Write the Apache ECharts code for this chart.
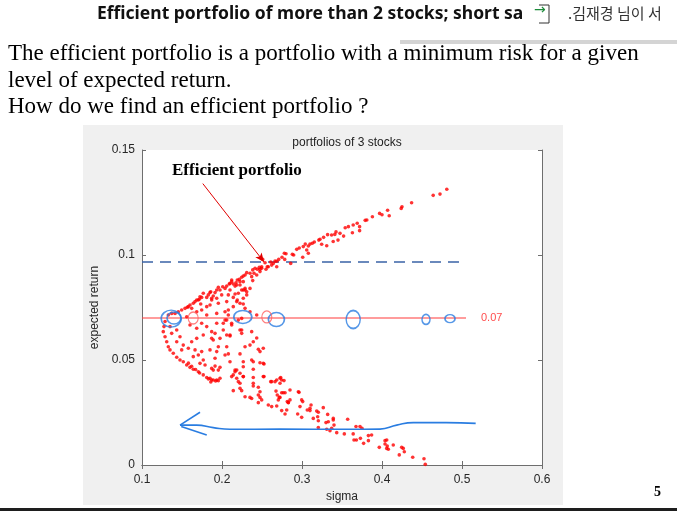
<!DOCTYPE html>
<html>
<head>
<meta charset="utf-8">
<script src="https://cdn.jsdelivr.net/npm/echarts@6/dist/echarts.min.js"></script>
<style>
  html, body { margin: 0; padding: 0; background: #fff; }
  #plot { width: 677px; height: 511px; }
</style>
</head>
<body>
<div id="plot"></div>
<script>
// 포트폴리오 점들 [sigma, expected return]
var portfolios = [
  [0.481,0.1313],[0.4725,0.129],[0.464,0.1284],[0.437,0.1249],[0.425,0.123],[0.424,0.1222],
  [0.409,0.1187],[0.407,0.1213],[0.400,0.1192],[0.397,0.1198],[0.388,0.1182],[0.381,0.1167],
  [0.379,0.1165],[0.369,0.1151],[0.372,0.1135],[0.372,0.1116],[0.364,0.1143],[0.363,0.1106],
  [0.358,0.1135],[0.354,0.1130],[0.352,0.1090],[0.3475,0.1103],[0.3425,0.1110],[0.341,0.1098],
  [0.345,0.1071],[0.339,0.1064],[0.337,0.1095],[0.332,0.1097],[0.327,0.1084],[0.3225,0.1075],
  [0.3246,0.1051],[0.3309,0.1044],[0.321,0.1071],[0.3154,0.1062],[0.3129,0.1056],[0.31,0.1052],
  [0.3079,0.1043],[0.3059,0.1024],[0.3041,0.1052],[0.3016,0.1040],[0.3009,0.0989],[0.3079,0.1008],
  [0.2966,0.1033],[0.2934,0.1027],[0.2896,0.1000],[0.2879,0.1003],[0.2859,0.0960],[0.28,0.1006],
  [0.2779,0.1008],[0.275,0.0989],[0.2784,0.0979],[0.2709,0.0979],[0.2684,0.0970],[0.2663,0.0971],
  [0.2641,0.0960],[0.2621,0.0952],[0.2684,0.0944],[0.2609,0.0967],[0.2579,0.0944],[0.255,0.0932],
  [0.2509,0.0979],[0.2496,0.0937],[0.2466,0.0941],[0.2441,0.0932],[0.2413,0.0937],[0.2384,0.0929],
  [0.2475,0.0921],[0.2434,0.0905],[0.24,0.0913],[0.2371,0.0897],
  [0.2538,0.0963],[0.2566,0.0944],[0.2496,0.0944],[0.2475,0.0932],[0.235,0.0913],[0.2384,0.0878],
  [0.2309,0.0916],[0.2288,0.0905],[0.2266,0.0900],[0.2246,0.0894],[0.2266,0.0873],[0.2216,0.0884],
  [0.2191,0.0881],[0.2175,0.0868],[0.2141,0.0862],[0.2121,0.0873],[0.2163,0.0852],[0.2246,0.0833],
  [0.2288,0.0841],[0.2309,0.0825],[0.2091,0.0862],[0.2059,0.0852],[0.2038,0.0841],[0.21,0.0833],
  [0.2009,0.0849],[0.1975,0.0833],[0.1934,0.0833],[0.1913,0.0821],[0.1996,0.0810],[0.2163,0.0814],
  [0.2191,0.0786],[0.2141,0.0798],[0.1891,0.0805],[0.1859,0.0825],[0.1829,0.0810],[0.1809,0.0798],
  [0.1871,0.0786],[0.1934,0.0794],[0.1766,0.0818],[0.1746,0.0798],[0.1716,0.0789],[0.1684,0.0786],
  [0.1663,0.0778],[0.1641,0.0770],[0.1734,0.0767],[0.1809,0.0754],[0.185,0.0762],[0.16,0.0762],
  [0.1566,0.0751],[0.1621,0.0746],
  [0.21,0.0865],[0.2184,0.0857],[0.2225,0.0873],[0.1954,0.0846],[0.185,0.0821],[0.1871,0.0794],
  [0.2079,0.0810],[0.2204,0.0818],[0.2266,0.0833],[0.1725,0.0801],[0.1704,0.0786],
  [0.1579,0.0754],[0.1538,0.0746],[0.1496,0.0738],[0.1454,0.0730],[0.1413,0.0722],[0.1371,0.0722],
  [0.1329,0.0714],[0.1954,0.0770],[0.2059,0.0778],[0.2141,0.0754],[0.2225,0.0770],[0.1746,0.0738],
  [0.1684,0.0730],[0.1934,0.0722],[0.2038,0.0730],[0.2079,0.0714],[0.1809,0.0714],[0.1559,0.0706],
  [0.1288,0.0683],[0.1275,0.0659],[0.1266,0.0635],[0.1288,0.0611],[0.1309,0.0587],[0.1329,0.0563],
  [0.135,0.0548],[0.1391,0.0532],[0.1434,0.0513],[0.1475,0.0500],[0.1516,0.0492],[0.1559,0.0476],
  [0.16,0.0465],[0.1641,0.0456],[0.1704,0.0444],[0.1766,0.0429],[0.1809,0.0417],[0.185,0.0413],
  [0.1891,0.0405],[0.1954,0.0401],[0.1975,0.0413],
  [0.135,0.0659],[0.1371,0.0627],[0.1434,0.0643],[0.1475,0.0611],[0.1434,0.0587],[0.1516,0.0571],
  [0.1496,0.0548],[0.1579,0.0556],[0.1621,0.0587],[0.1684,0.0603],[0.1663,0.0548],[0.1704,0.0524],
  [0.1746,0.0540],[0.1766,0.0500],[0.1725,0.0484],[0.1788,0.0476],[0.1641,0.0516],[0.16,0.0667],
  [0.1684,0.0651],[0.1746,0.0675],[0.1809,0.0659],[0.1871,0.0635],[0.1766,0.0619],[0.1891,0.0595],
  [0.1975,0.0603],[0.1954,0.0563],[0.185,0.0548],[0.1913,0.0508],[0.1975,0.0465],[0.1871,0.0460],
  [0.2059,0.0563],[0.2038,0.0524],[0.21,0.0492],[0.2163,0.0452],[0.2225,0.0437],[0.2184,0.0413],
  [0.2266,0.0421],[0.2225,0.0389],[0.2121,0.0675],[0.2225,0.0643],[0.21,0.0619],[0.2016,0.0643],
  [0.1934,0.0675],[0.2059,0.0690],
  [0.158,0.0485],[0.162,0.047],[0.167,0.0455],[0.172,0.0438],[0.183,0.0410],[0.192,0.0400],[0.186,0.0395],
  [0.2079,0.0738],[0.2266,0.0767],[0.2288,0.0746],[0.235,0.0730],[0.2434,0.0714],[0.2246,0.0698],
  [0.2204,0.0690],[0.2038,0.0690],[0.2016,0.0675],[0.2121,0.0667],[0.2059,0.0619],[0.21,0.0614],
  [0.2246,0.0643],[0.2246,0.0627],[0.2371,0.0635],[0.1913,0.0627],[0.1871,0.0603],[0.2288,0.0563],
  [0.235,0.0571],[0.2454,0.0551],[0.1934,0.0540],[0.2079,0.0529],[0.2225,0.0529],[0.2371,0.0500],
  [0.2391,0.0492],[0.2475,0.0487],[0.2516,0.0484],[0.2266,0.0492],[0.1913,0.0471],[0.1954,0.0452],
  [0.1891,0.0452],[0.2163,0.0444],[0.2184,0.0452],[0.2266,0.0468],[0.2391,0.0456],[0.2141,0.0429],
  [0.2121,0.0421],[0.2266,0.0421],[0.2391,0.0417],[0.2516,0.0421],[0.2621,0.0397],[0.2684,0.0405],
  [0.2746,0.0405],[0.2725,0.0413],[0.1871,0.0405],[0.1934,0.0405],[0.2204,0.0397],[0.2225,0.0365],
  [0.2246,0.0354],[0.2141,0.0354],[0.2391,0.0376],[0.2454,0.0370],[0.2475,0.0349],[0.2454,0.0333],
  [0.235,0.0322],[0.2371,0.0317],[0.2288,0.0325],[0.2475,0.0322],[0.2496,0.0310],[0.2579,0.0286],
  [0.2621,0.0278],[0.2684,0.0281],[0.2704,0.0310],[0.2725,0.0322],[0.285,0.0357],[0.2954,0.0349],
  [0.285,0.0310],[0.2829,0.0298],[0.2996,0.0310],[0.31,0.0270],[0.2975,0.0278],
  [0.2184,0.0778],[0.2266,0.0794],[0.2309,0.0810],[0.235,0.0841],[0.2288,0.0833],[0.2225,0.0857],
  [0.2121,0.0881],[0.2434,0.0605],[0.2391,0.0587],[0.2475,0.0540],[0.2516,0.0556],
  [0.2525,0.0481],[0.2525,0.0421],[0.2391,0.0389],[0.2454,0.0297],[0.2609,0.0397],[0.2663,0.0397],
  [0.2725,0.0389],[0.2734,0.0417],[0.2775,0.0402],[0.2675,0.0352],[0.2691,0.0333],[0.2716,0.0322],
  [0.2746,0.0344],[0.2766,0.0344],[0.2788,0.0344],[0.2963,0.0346],[0.2816,0.0302],[0.2829,0.0297],
  [0.2746,0.0259],[0.2788,0.0243],[0.2809,0.0262],[0.3009,0.0302],[0.2946,0.0243],[0.2996,0.0227],
  [0.3066,0.0262],[0.3113,0.0286],[0.31,0.0259],[0.3141,0.0222],[0.3184,0.0257],[0.3204,0.0251],
  [0.3196,0.0230],[0.3204,0.0211],[0.3266,0.0273],[0.3321,0.0241],[0.3300,0.0202],[0.3329,0.0206],
  [0.3391,0.0222],[0.3391,0.0214],[0.34,0.0190],[0.3204,0.0178],[0.3309,0.0170],[0.335,0.0163],
  [0.3371,0.0175],[0.3434,0.0154],[0.3529,0.0148],[0.3571,0.0218],[0.364,0.0148],[0.365,0.0119],
  [0.368,0.0119],[0.3675,0.0183],[0.3725,0.0183],[0.375,0.0175],[0.377,0.0103],[0.373,0.0127],
  [0.383,0.0140],[0.383,0.0116],[0.387,0.0143],[0.3966,0.0084],[0.4038,0.0116],[0.4059,0.0119],
  [0.4038,0.0100],[0.4066,0.0090],[0.4059,0.0079],[0.4079,0.0075],[0.4141,0.0095],[0.4246,0.0084],
  [0.4266,0.0079],[0.4279,0.0063],[0.4216,0.0048],[0.4384,0.0037],[0.4525,0.0030],[0.4541,0.0003]
];

// 기준선
var targetReturn = 0.07;
var targetLineX = [0.1, 0.505];
var efficientReturn = 0.0967;
var efficientLineX = [0.1, 0.4975];
var pointerFrom = [0.176, 0.134];
var pointerTo = [0.2525, 0.0967];

// 손으로 그린 표시 (파란 화살표, 동그라미)
var penArrow = [[0.5171,0.0198],[0.4800,0.0202],[0.4391,0.0202],[0.4184,0.0190],[0.3975,0.0171],
  [0.3559,0.0170],[0.2725,0.0171],[0.21,0.0170],[0.1891,0.0178],[0.1684,0.0190],[0.1475,0.0190]];
var penHeadUp = [[0.1475,0.0190],[0.1725,0.0251]];
var penHeadDown = [[0.1490,0.0183],[0.1809,0.0143]];
var blueLoops = [[0.1365,0.0697],[0.1400,0.0700],[0.2260,0.0705],[0.2680,0.0693],[0.3640,0.0693],[0.4550,0.0693],[0.4850,0.0697]];
var redLoops = [[0.1640,0.0700],[0.2560,0.0705]];

var myChart = echarts.init(document.getElementById('plot'));

var axisFont = { fontFamily: 'Liberation Sans, Arial, sans-serif', fontSize: 12, color: '#262626' };
var blue = '#2a7de1';
var loopSizes = [[20, 17], [14, 12], [18, 13], [16, 14], [14, 18], [8, 10], [10, 8]];
var serif = '"Liberation Serif", "Times New Roman", serif';

var option = {
  animation: false,
  backgroundColor: '#fff',
  title: {
    text: 'portfolios of 3 stocks',
    left: 342, top: 132, textAlign: 'center',
    textStyle: { fontFamily: 'Liberation Sans, Arial, sans-serif', fontSize: 12, fontWeight: 'normal', color: '#222' }
  },
  graphic: [
    // 회색 figure 배경
    { type: 'rect', z: -10, shape: { x: 83, y: 125, width: 480, height: 380 }, style: { fill: '#f0f0f0' } },
    { type: 'rect', z: -9, shape: { x: 142, y: 150, width: 400, height: 315 }, style: { fill: '#fff' } },
    // 슬라이드 글자
    { type: 'text', left: 97, top: 5, style: { text: 'Efficient portfolio of more than 2 stocks; short sa', font: 'bold 17.5px "Noto Sans", "Open Sans", sans-serif', fill: '#111' } },
    { type: 'polyline', shape: { points: [[539, 5], [549, 5], [549, 23], [539, 23]] }, style: { stroke: '#333', lineWidth: 1, fill: null } },
    { type: 'text', left: 534, top: 3, style: { text: '→', font: '14px "DejaVu Sans", sans-serif', fill: '#1c8a3a' } },
    { type: 'text', left: 568, top: 6, style: { text: '.김재경 님이 서', font: '15px "Noto Sans CJK KR", sans-serif', fill: '#333' } },
    { type: 'rect', shape: { x: 400, y: 40, width: 277, height: 4 }, style: { fill: '#d4d4d4' } },
    { type: 'text', left: 8, top: 42, style: { text: 'The efficient portfolio is a portfolio with a minimum risk for a given', font: '23px ' + serif, fill: '#000' } },
    { type: 'text', left: 8, top: 69, style: { text: 'level of expected return.', font: '23px ' + serif, fill: '#000' } },
    { type: 'text', left: 8, top: 95, style: { text: 'How do we find an efficient portfolio ?', font: '23px ' + serif, fill: '#000' } },
    { type: 'text', left: 172, top: 162, style: { text: 'Efficient portfolio', font: 'bold 17px ' + serif, fill: '#000' } },
    { type: 'text', left: 654, top: 485, style: { text: '5', font: 'bold 14px ' + serif, fill: '#000' } },
    { type: 'rect', shape: { x: 0, y: 508, width: 677, height: 3 }, style: { fill: '#1e1e1e' } }
  ],
  grid: { left: 142, right: 135, top: 150, bottom: 46, show: false },
  xAxis: [{
    type: 'value', min: 0.1, max: 0.6, interval: 0.1,
    name: 'sigma', nameLocation: 'middle', nameGap: 25,
    nameTextStyle: axisFont,
    axisLine: { lineStyle: { color: '#6e6e6e' } },
    axisTick: { inside: true, length: 4, lineStyle: { color: '#6e6e6e' } },
    axisLabel: Object.assign({ margin: 9, formatter: function (v) { return +v.toFixed(1) + ''; } }, axisFont),
    splitLine: { show: false }
  }, {
    type: 'value', min: 0.1, max: 0.6, interval: 0.1, position: 'top',
    axisLine: { lineStyle: { color: '#6e6e6e' } },
    axisTick: { inside: true, length: 4, lineStyle: { color: '#6e6e6e' } },
    axisLabel: { show: false }, splitLine: { show: false }
  }],
  yAxis: [{
    type: 'value', min: 0, max: 0.15, interval: 0.05,
    name: 'expected return', nameLocation: 'middle', nameGap: 38,
    nameTextStyle: axisFont,
    axisLine: { show: true, lineStyle: { color: '#6e6e6e' } },
    axisTick: { show: true, inside: true, length: 4, lineStyle: { color: '#6e6e6e' } },
    axisLabel: Object.assign({ margin: 7, formatter: function (v) { return +v.toFixed(2) + ''; } }, axisFont),
    splitLine: { show: false }
  }, {
    type: 'value', min: 0, max: 0.15, interval: 0.05, position: 'right',
    axisLine: { show: true, lineStyle: { color: '#6e6e6e' } },
    axisTick: { show: true, inside: true, length: 4, lineStyle: { color: '#6e6e6e' } },
    axisLabel: { show: false }, splitLine: { show: false }
  }],
  series: [{
    name: 'portfolios', type: 'scatter', data: portfolios,
    symbol: 'circle', symbolSize: 3.6,
    itemStyle: { color: '#ff0000' }, z: 3
  }, {
    name: 'target', type: 'line', data: [[targetLineX[0], targetReturn], [targetLineX[1], targetReturn]],
    showSymbol: false, symbol: 'none',
    lineStyle: { color: '#ff3b3b', width: 1.2 },
    endLabel: { show: true, formatter: '0.07', color: '#ff4d4d', fontSize: 11, distance: 15, fontFamily: 'Liberation Sans, Arial, sans-serif' },
    z: 2
  }, {
    name: 'efficient', type: 'line', data: [[efficientLineX[0], efficientReturn], [efficientLineX[1], efficientReturn]],
    showSymbol: false, symbol: 'none',
    lineStyle: { color: '#3a63a6', width: 1.5, type: [11, 7] },
    z: 2,
    markLine: {
      silent: true, symbol: ['none', 'arrow'], symbolSize: [6, 9],
      lineStyle: { color: '#e00000', width: 1, type: 'solid' },
      label: { show: false },
      data: [[{ coord: pointerFrom }, { coord: pointerTo }]]
    }
  }, {
    name: 'pen', type: 'line', data: penArrow, smooth: true, showSymbol: false, symbol: 'none',
    lineStyle: { color: blue, width: 1.6 }, z: 4
  }, {
    name: 'penHeadUp', type: 'line', data: penHeadUp, showSymbol: false, symbol: 'none',
    lineStyle: { color: blue, width: 1.6 }, z: 4
  }, {
    name: 'penHeadDown', type: 'line', data: penHeadDown, showSymbol: false, symbol: 'none',
    lineStyle: { color: blue, width: 1.6 }, z: 4
  }, {
    name: 'blueLoops', type: 'scatter', data: blueLoops, symbol: 'circle',
    symbolSize: function (v, p) { return loopSizes[p.dataIndex]; },
    itemStyle: { color: 'rgba(0,0,0,0)', borderColor: blue, borderWidth: 1.6 }, z: 5
  }, {
    name: 'redLoops', type: 'scatter', data: redLoops, symbol: 'circle', symbolSize: [10, 12],
    itemStyle: { color: 'rgba(0,0,0,0)', borderColor: '#ff6060', borderWidth: 1.2 }, z: 5
  }]
};

myChart.setOption(option);
</script>
</body>
</html>
